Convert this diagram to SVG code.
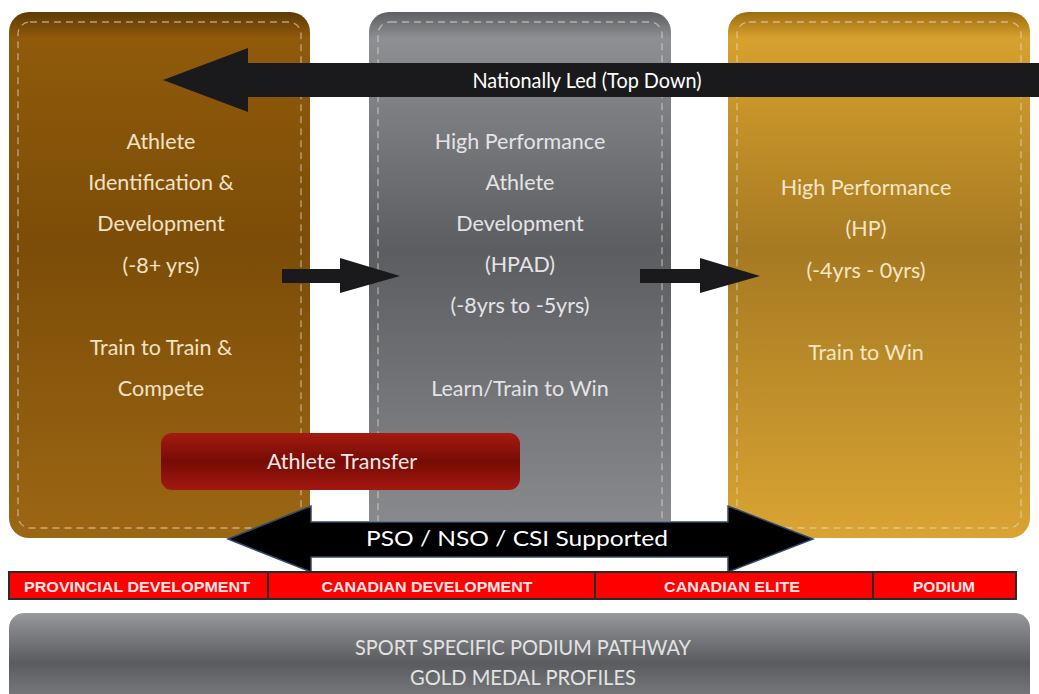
<svg xmlns="http://www.w3.org/2000/svg" width="1039" height="694" viewBox="0 0 1039 694">
<defs>
<linearGradient id="gBrown" x1="0" y1="0" x2="0" y2="1">
<stop offset="0" stop-color="#5e3a05"/><stop offset="0.05" stop-color="#8f5a0a"/><stop offset="0.45" stop-color="#7c4d08"/><stop offset="1" stop-color="#9c6714"/>
</linearGradient>
<linearGradient id="gGray" x1="0" y1="0" x2="0" y2="1">
<stop offset="0" stop-color="#5e5f63"/><stop offset="0.05" stop-color="#8e8f93"/><stop offset="0.45" stop-color="#5c5d61"/><stop offset="1" stop-color="#8c8d91"/>
</linearGradient>
<linearGradient id="gGold" x1="0" y1="0" x2="0" y2="1">
<stop offset="0" stop-color="#9c6c10"/><stop offset="0.05" stop-color="#d7a12d"/><stop offset="0.45" stop-color="#a67a22"/><stop offset="1" stop-color="#d9a433"/>
</linearGradient>
<linearGradient id="gRed" x1="0" y1="0" x2="0" y2="1">
<stop offset="0" stop-color="#a51a10"/><stop offset="0.5" stop-color="#760c05"/><stop offset="1" stop-color="#a31810"/>
</linearGradient>
<linearGradient id="gBar" x1="0" y1="0" x2="0" y2="1">
<stop offset="0" stop-color="#9a9b9f"/><stop offset="0.1" stop-color="#8a8b8f"/><stop offset="0.5" stop-color="#5a5b5e"/><stop offset="1" stop-color="#86878a"/>
</linearGradient>
<style>
.dash{fill:none;stroke:#e6dccb;stroke-opacity:0.6;stroke-width:1.3;stroke-dasharray:7 5}
.t{font-family:Lato,"Open Sans","Liberation Sans",sans-serif;font-size:21.5px;text-anchor:middle;dominant-baseline:central}
.tb{fill:#f2e2c6}
.tg{fill:#e4e4e6}
.tgold{fill:#f5e6c4}
.w{fill:#ffffff}
.red{font-family:"Liberation Sans",Arial,sans-serif;font-weight:bold;font-size:14px;fill:#ffe6e6;text-anchor:middle;dominant-baseline:central}
.seg{fill:#ff0000;stroke:#2a2a2a;stroke-width:2}
</style>
</defs>
<rect width="1039" height="694" fill="#ffffff"/>

<g id="box-athlete-id">
<rect x="9" y="12" width="301" height="526" rx="20" fill="url(#gBrown)"/>
<rect x="18" y="22" width="283" height="506" rx="12" class="dash"/>
<text class="t tb" x="161" y="141">Athlete</text>
<text class="t tb" x="161" y="182">Identification &amp;</text>
<text class="t tb" x="161" y="223">Development</text>
<text class="t tb" x="161" y="265">(-8+ yrs)</text>
<text class="t tb" x="161" y="347">Train to Train &amp;</text>
<text class="t tb" x="161" y="388">Compete</text>
</g>

<g id="box-hpad">
<rect x="369" y="12" width="302" height="530" rx="20" fill="url(#gGray)"/>
<rect x="378" y="22" width="284" height="520" rx="12" class="dash"/>
<text class="t tg" x="520" y="141">High Performance</text>
<text class="t tg" x="520" y="182">Athlete</text>
<text class="t tg" x="520" y="223">Development</text>
<text class="t tg" x="520" y="264">(HPAD)</text>
<text class="t tg" x="520" y="305">(-8yrs to -5yrs)</text>
<text class="t tg" x="520" y="388">Learn/Train to Win</text>
</g>

<g id="box-hp">
<rect x="728" y="12" width="302" height="526" rx="20" fill="url(#gGold)"/>
<rect x="737" y="22" width="284" height="506" rx="12" class="dash"/>
<text class="t tgold" x="866" y="187">High Performance</text>
<text class="t tgold" x="866" y="228">(HP)</text>
<text class="t tgold" x="866" y="270">(-4yrs - 0yrs)</text>
<text class="t tgold" x="866" y="352">Train to Win</text>
</g>

<g id="connectors">
<g id="arrow-top-down">
<polygon points="163,80 248,48 248,63 1039,63 1039,97 248,97 248,112" fill="#1a1a1c"/>
<text class="t w" x="587" y="80" font-size="17" textLength="229" lengthAdjust="spacingAndGlyphs">Nationally Led (Top Down)</text>
</g>
<polygon id="arrow-1" points="282,269 340,269 340,258 400,276 340,293 340,283 282,283" fill="#1a1a1c"/>
<polygon id="arrow-2" points="640,269 700,269 700,258 760,276 700,293 700,283 640,283" fill="#1a1a1c"/>
<rect x="311" y="521" width="417" height="3" fill="#ffffff"/>
<g id="arrow-pso">
<polygon points="228,539 311,506 311,522 728,522 728,506 813,539 728,572 728,557 311,557 311,572" fill="#000000" stroke="#2c4a6e" stroke-width="1.5"/>
<text class="t w" x="517" y="538" font-size="27" textLength="302" lengthAdjust="spacingAndGlyphs">PSO / NSO / CSI Supported</text>
</g>
</g>

<g id="athlete-transfer">
<rect x="161" y="433" width="359" height="57" rx="11" fill="url(#gRed)"/>
<text class="t" x="342" y="461" fill="#f0e6e6">Athlete Transfer</text>
</g>

<g id="stage-bar">
<rect class="seg" x="9" y="572" width="259" height="27"/>
<rect class="seg" x="268" y="572" width="327" height="27"/>
<rect class="seg" x="595" y="572" width="278" height="27"/>
<rect class="seg" x="873" y="572" width="143" height="27"/>
<text class="red" x="137" y="587" textLength="226" lengthAdjust="spacingAndGlyphs">PROVINCIAL  DEVELOPMENT</text>
<text class="red" x="427" y="587" textLength="211" lengthAdjust="spacingAndGlyphs">CANADIAN  DEVELOPMENT</text>
<text class="red" x="732" y="587" textLength="136" lengthAdjust="spacingAndGlyphs">CANADIAN  ELITE</text>
<text class="red" x="944" y="587" textLength="62" lengthAdjust="spacingAndGlyphs">PODIUM</text>
</g>

<g id="podium-pathway">
<rect x="9" y="613" width="1021" height="100" rx="15" fill="url(#gBar)"/>
<text class="t" x="523" y="647" font-size="22" fill="#e2e2e2" textLength="336" lengthAdjust="spacingAndGlyphs">SPORT SPECIFIC PODIUM PATHWAY</text>
<text class="t" x="523" y="677" font-size="22" fill="#e2e2e2" textLength="226" lengthAdjust="spacingAndGlyphs">GOLD MEDAL PROFILES</text>
</g>
</svg>
